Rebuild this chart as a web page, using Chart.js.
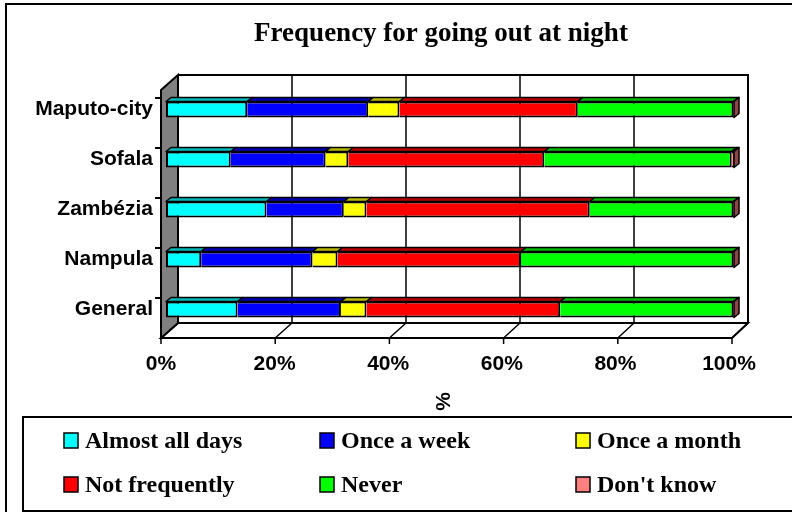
<!DOCTYPE html>
<html>
<head>
<meta charset="utf-8">
<script src="https://cdn.jsdelivr.net/npm/chart.js@4.4.0/dist/chart.umd.min.js"></script>
<style>
  html, body { margin: 0; padding: 0; background: #fff; }
  #wrap { width: 792px; height: 512px; position: relative; }
</style>
</head>
<body>
<div id="wrap"><canvas id="chart" width="792" height="512"></canvas></div>
<script>
const categories = ['Maputo-city', 'Sofala', 'Zambézia', 'Nampula', 'General'];
const seriesNames = ['Almost all days', 'Once a week', 'Once a month', 'Not frequently', 'Never', "Don't know"];
const almostAllDays = [14.3, 11.4, 17.7, 6.2, 12.6];
const onceAWeek = [21.3, 16.7, 13.6, 19.6, 18.2];
const onceAMonth = [5.5, 4.0, 4.0, 4.4, 4.5];
const notFrequently = [31.4, 34.5, 39.3, 32.3, 34.1];
const never = [27.4, 33.0, 25.3, 37.4, 30.5];
const dontKnow = [0.1, 0.4, 0.1, 0.1, 0.1];
const xTicks = [0, 20, 40, 60, 80, 100];
const chartTitle = 'Frequency for going out at night';
const axisTitle = '%';

const frontColors = ['#00ffff', '#0000ff', '#ffff00', '#ff0000', '#00ff00', '#ff8080'];
const topColors = ['#00b8b8', '#0000b0', '#b8b800', '#b80000', '#00b800', '#b85c5c'];
const sideColor = '#8c4646';

const sansFont = "Arial, 'Liberation Sans', sans-serif";
const serifFont = "'Times New Roman', 'Liberation Serif', serif";

// walls, floor, grid and the fake depth of the bars
const frame3d = {
    id: 'frame3d',
    beforeDatasetsDraw(chart) {
        const { ctx, chartArea: ca, scales: { x, y } } = chart;
        const back = { l: ca.left + 12, r: ca.right + 14, t: ca.top - 9.5, b: ca.bottom - 11.5 };
        const front = { l: ca.left - 5, r: ca.right - 2, t: ca.top + 5.5, b: ca.bottom + 3.5 };
        const frac = v => (x.getPixelForValue(v) - ca.left) / ca.width;

        ctx.save();
        ctx.strokeStyle = '#000';
        ctx.fillStyle = '#fff';
        ctx.fillRect(back.l, back.t, back.r - back.l, back.b - back.t);

        ctx.lineWidth = 1.5;
        xTicks.forEach(v => {
            const bx = back.l + frac(v) * (back.r - back.l);
            const fx = front.l + frac(v) * (front.r - front.l);
            ctx.beginPath();
            ctx.moveTo(bx, back.t);
            ctx.lineTo(bx, back.b);
            ctx.lineTo(fx, front.b);
            ctx.lineTo(fx, front.b + 6);
            ctx.stroke();
        });

        ctx.lineWidth = 2;
        ctx.beginPath();
        ctx.moveTo(back.l, back.t);
        ctx.lineTo(back.r, back.t);
        ctx.lineTo(back.r, back.b);
        ctx.stroke();

        ctx.beginPath();
        ctx.moveTo(back.l, back.b);
        ctx.lineTo(back.r, back.b);
        ctx.lineTo(front.r, front.b);
        ctx.lineTo(front.l, front.b);
        ctx.closePath();
        ctx.stroke();

        // left wall
        ctx.fillStyle = '#808080';
        ctx.beginPath();
        ctx.moveTo(front.l, front.t);
        ctx.lineTo(back.l, back.t);
        ctx.lineTo(back.l, back.b);
        ctx.lineTo(front.l, front.b);
        ctx.closePath();
        ctx.fill();
        ctx.stroke();

        categories.forEach((c, i) => {
            const ty = y.getPixelForValue(i) - 11.5;
            ctx.beginPath();
            ctx.moveTo(front.l - 6, ty);
            ctx.lineTo(front.l, ty);
            ctx.stroke();
        });
        ctx.restore();
    },
    afterDatasetsDraw(chart) {
        const { ctx } = chart;
        const dx = 5, dy = -4;
        ctx.save();
        ctx.strokeStyle = '#000';
        ctx.lineWidth = 1.5;
        ctx.lineJoin = 'round';
        const last = chart.data.datasets.length - 1;
        chart.data.datasets.forEach((ds, di) => {
            chart.getDatasetMeta(di).data.forEach(bar => {
                const p = bar.getProps(['x', 'base', 'y', 'height'], true);
                const top = p.y - p.height / 2;
                const bottom = p.y + p.height / 2;
                const x0 = Math.min(p.x, p.base), x1 = Math.max(p.x, p.base);
                ctx.fillStyle = topColors[di];
                ctx.beginPath();
                ctx.moveTo(x0, top);
                ctx.lineTo(x0 + dx, top + dy);
                ctx.lineTo(x1 + dx, top + dy);
                ctx.lineTo(x1, top);
                ctx.closePath();
                ctx.fill();
                ctx.stroke();
                if (di === last) {
                    ctx.fillStyle = sideColor;
                    ctx.beginPath();
                    ctx.moveTo(x1, top);
                    ctx.lineTo(x1 + dx, top + dy);
                    ctx.lineTo(x1 + dx, bottom + dy);
                    ctx.lineTo(x1, bottom);
                    ctx.closePath();
                    ctx.fill();
                    ctx.stroke();
                }
            });
        });
        ctx.restore();
    },
    afterDraw(chart) {
        const { ctx } = chart;
        ctx.save();
        ctx.strokeStyle = '#000';
        ctx.lineWidth = 2;
        // outer frame (right and bottom edges fall outside the picture)
        ctx.beginPath();
        ctx.moveTo(6, 520);
        ctx.lineTo(6, 4);
        ctx.lineTo(800, 4);
        ctx.stroke();

        ctx.fillStyle = '#000';
        ctx.textAlign = 'center';
        ctx.textBaseline = 'alphabetic';
        ctx.font = 'bold 27px ' + serifFont;
        ctx.fillText(chartTitle, 441, 41);

        ctx.save();
        ctx.translate(444, 401.5);
        ctx.rotate(-Math.PI / 2);
        ctx.textBaseline = 'middle';
        ctx.font = 'bold 21px ' + sansFont;
        ctx.fillText(axisTitle, 0, 0);
        ctx.restore();

        // legend box
        ctx.strokeRect(23, 417, 800, 94);
        const cols = [64, 320, 576];
        const rows = [448, 492];
        ctx.textAlign = 'left';
        ctx.font = 'bold 24px ' + serifFont;
        seriesNames.forEach((name, i) => {
            const cx = cols[i % 3], by = rows[Math.floor(i / 3)];
            ctx.fillStyle = frontColors[i];
            ctx.fillRect(cx, by - 15, 14, 15);
            ctx.lineWidth = 1.5;
            ctx.strokeRect(cx, by - 15, 14, 15);
            ctx.fillStyle = '#000';
            ctx.fillText(name, cx + 21, by);
        });
        ctx.restore();
    }
};

const seriesValues = [almostAllDays, onceAWeek, onceAMonth, notFrequently, never, dontKnow];

new Chart(document.getElementById('chart'), {
    type: 'bar',
    data: {
        labels: categories,
        datasets: seriesValues.map((vals, i) => ({
            label: seriesNames[i],
            data: vals,
            backgroundColor: frontColors[i],
            borderColor: '#000',
            borderWidth: 2,
            borderSkipped: i === 0 ? false : 'start',
            barPercentage: 0.32,
            categoryPercentage: 1.0
        }))
    },
    options: {
        indexAxis: 'y',
        responsive: false,
        animation: false,
        layout: { padding: { top: 84.5, right: 58, bottom: 0, left: 0 } },
        plugins: {
            legend: { display: false },
            title: { display: false },
            tooltip: { enabled: false }
        },
        scales: {
            x: {
                stacked: true,
                min: 0,
                max: 100,
                afterBuildTicks: s => { s.ticks = xTicks.map(v => ({ value: v })); },
                afterFit: s => { s.height = 177.5; },
                grid: { display: false, drawTicks: false },
                border: { display: false },
                ticks: {
                    callback: v => v + '%',
                    color: '#000',
                    font: { family: sansFont, size: 21, weight: 'bold' },
                    padding: 17,
                    labelOffset: -5,
                    maxRotation: 0,
                    autoSkip: false
                }
            },
            y: {
                stacked: true,
                afterFit: s => { s.width = 166; },
                grid: { display: false, drawTicks: false },
                border: { display: false },
                ticks: {
                    color: '#000',
                    font: { family: sansFont, size: 21, weight: 'bold' },
                    padding: 13
                }
            }
        }
    },
    plugins: [frame3d]
});
</script>
</body>
</html>
